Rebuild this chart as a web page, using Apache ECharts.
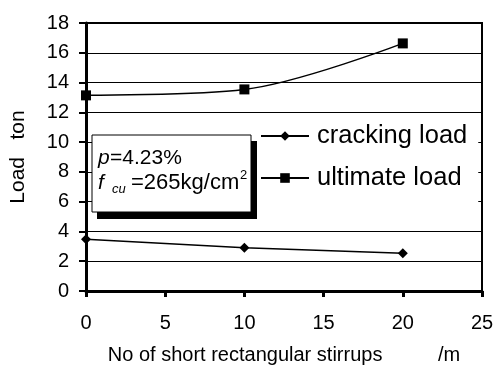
<!DOCTYPE html>
<html>
<head>
<meta charset="utf-8">
<script src="https://cdn.jsdelivr.net/npm/echarts@6/dist/echarts.min.js"></script>
<style>
  html, body { margin: 0; padding: 0; background: #fff; }
  #chart { width: 496px; height: 366px; }
</style>
</head>
<body>
<div id="chart"></div>
<script>
// Stirrup counts per metre and measured loads (ton)
var stirrups = [0, 10, 20];
var crackingLoad = [3.47, 2.91, 2.53];
var ultimateLoad = [13.14, 13.54, 16.63];
var seriesNames = ['cracking load', 'ultimate load'];
var xTitle = 'No of short rectangular stirrups          /m';
var yTitle = 'Load   ton';

var FONT = '"Liberation Sans", Arial, sans-serif';

function pairs(xs, ys) {
  return xs.map(function (x, i) { return [x, ys[i]]; });
}

function label(text, x, y, size, italic) {
  return {
    type: 'text', z: 52,
    style: {
      x: x, y: y, text: text,
      fontFamily: FONT, fontSize: size, fontStyle: italic ? 'italic' : 'normal',
      fill: '#000', verticalAlign: 'middle', align: 'left'
    }
  };
}

var chart = echarts.init(document.getElementById('chart'), null, { renderer: 'canvas' });

chart.setOption({
  animation: false,
  backgroundColor: '#fff',
  grid: {
    left: 86, right: 14, top: 23, bottom: 75,
    outerBoundsMode: 'none',
    containLabel: false,
    show: true, borderColor: '#000', borderWidth: 2, backgroundColor: 'transparent'
  },
  xAxis: {
    type: 'value', min: 0, max: 25, interval: 5,
    name: xTitle, nameLocation: 'middle', nameGap: 54,
    nameTextStyle: { fontFamily: FONT, fontSize: 20, color: '#000' },
    axisLine: { show: true, onZero: false, lineStyle: { color: '#000', width: 3 } },
    axisTick: { show: true, inside: false, length: 6, lineStyle: { color: '#000', width: 3 } },
    axisLabel: { margin: 22, fontFamily: FONT, fontSize: 20, color: '#000' },
    splitLine: { show: false }
  },
  yAxis: {
    type: 'value', min: 0, max: 18, interval: 2,
    name: yTitle, nameLocation: 'middle', nameGap: 57, nameRotate: 90,
    nameTextStyle: { fontFamily: FONT, fontSize: 21, color: '#000' },
    axisLine: { show: true, onZero: false, lineStyle: { color: '#000', width: 3 } },
    axisTick: { show: true, inside: false, length: 7, lineStyle: { color: '#000', width: 2 } },
    axisLabel: { margin: 17, fontFamily: FONT, fontSize: 20, color: '#000' },
    splitLine: { show: true, lineStyle: { color: '#000', width: 1 } }
  },
  legend: {
    orient: 'vertical',
    left: 256, top: 117,
    itemWidth: 48, itemHeight: 12, itemGap: 16,
    backgroundColor: '#fff',
    padding: [6, 11, 13, 4],
    textStyle: { fontFamily: FONT, fontSize: 25.5, color: '#000', padding: [0, 0, 0, 3] },
    data: seriesNames
  },
  series: [
    {
      name: seriesNames[0], type: 'line',
      data: pairs(stirrups, crackingLoad),
      symbol: 'diamond', symbolSize: 10,
      lineStyle: { color: '#000', width: 1.5 },
      itemStyle: { color: '#000' },
      z: 3
    },
    {
      name: seriesNames[1], type: 'line',
      data: pairs(stirrups, ultimateLoad),
      smooth: 0.33,
      symbol: 'rect', symbolSize: 10,
      lineStyle: { color: '#000', width: 1.5 },
      itemStyle: { color: '#000' },
      z: 3
    }
  ],
  graphic: [
    // annotation box with drop shadow: reinforcement ratio and cube strength
    { type: 'rect', z: 50, shape: { x: 97, y: 141, width: 160, height: 78 }, style: { fill: '#000' } },
    { type: 'rect', z: 51, shape: { x: 92, y: 135, width: 159, height: 77 }, style: { fill: '#fff', stroke: '#000', lineWidth: 1 } },
    label('p', 98, 158, 21, true),
    label('=4.23%', 110, 158, 21, false),
    label('f', 98, 183, 21, true),
    label('cu', 112, 189, 13, true),
    label('=265kg/cm', 131, 183, 22, false),
    label('2', 240, 175, 13, false)
  ]
});
</script>
</body>
</html>
